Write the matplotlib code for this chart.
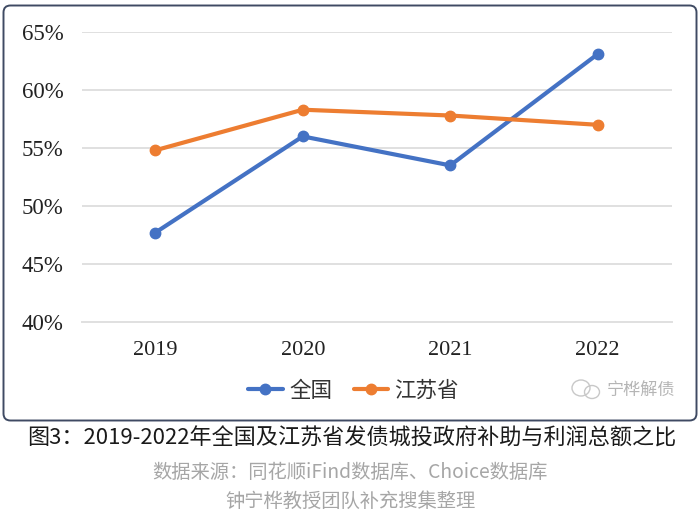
import matplotlib
matplotlib.use('Agg')
import matplotlib.pyplot as plt
from matplotlib.patches import FancyBboxPatch, Ellipse
from matplotlib.transforms import IdentityTransform

plt.rcParams['font.family'] = ['Noto Sans CJK SC', 'DejaVu Sans']

years = ['2019', '2020', '2021', '2022']
national = [47.7, 56.0, 53.5, 63.1]
jiangsu = [54.8, 58.3, 57.8, 57.0]
yticks = [40, 45, 50, 55, 60, 65]
ytick_labels = ['40%', '45%', '50%', '55%', '60%', '65%']

W, H = 700, 519
fig = plt.figure(figsize=(W / 100, H / 100), dpi=100)

# rounded frame round the chart
frame = FancyBboxPatch((3.5, H - 420.5), 693, 415, boxstyle='round,pad=0,rounding_size=7',
                       transform=IdentityTransform(), fc='white', ec='#3f4a63', lw=1.4, zorder=-1)
fig.add_artist(frame)

ax = fig.add_axes([81.5 / W, 1 - 322 / H, 590 / W, 290 / H])
ax.patch.set_alpha(0)
ax.plot(years, national, color='#4472c4', lw=3, marker='o', ms=7.5, label='全国', solid_capstyle='round')
ax.plot(years, jiangsu, color='#ed7d31', lw=3, marker='o', ms=7.5, label='江苏省', solid_capstyle='round')
ax.set_xlim(-0.5, 3.5)
ax.set_ylim(40, 65)
ax.set_yticks(yticks)
ax.set_yticklabels(ytick_labels, family='Liberation Serif', fontsize=16.5, color='#222222')
ax.set_xticks(range(4))
ax.set_xticklabels(years, family='Liberation Serif', fontsize=16, color='#222222')
ax.grid(axis='y', color='#e0e0e0', lw=1.4)
ax.set_axisbelow(True)
for s in ax.spines.values():
    s.set_visible(False)
ax.spines['bottom'].set_visible(True)
ax.spines['bottom'].set_color('#e0e0e0')
ax.spines['bottom'].set_linewidth(1.4)
ax.tick_params(length=0)
ax.tick_params(axis='y', pad=13)
ax.tick_params(axis='x', pad=14)

leg = fig.legend(loc='center', bbox_to_anchor=(353.5 / W, 1 - 391 / H), ncol=2, frameon=False,
                 prop={'size': 15.5, 'weight': 'light'}, handlelength=1.6, columnspacing=1.0,
                 handletextpad=0.3, labelcolor='#333333')

# watermark: chat bubbles icon and account name
for cx, cy, ew, eh in [(581, 388, 18, 16), (592, 392, 15, 13)]:
    fig.add_artist(Ellipse((cx, H - cy), ew, eh, transform=IdentityTransform(),
                           fc='none', ec='#c8c8c8', lw=1))
fig.text(641 / W, 1 - 390 / H, '宁桦解债', fontsize=12.3, color='#b5b5b5', ha='center', va='center')

fig.text(351.5 / W, 1 - 439 / H, '图3：2019-2022年全国及江苏省发债城投政府补助与利润总额之比',
         fontsize=15.9, color='#1a1a1a', ha='center', va='center')
fig.text(350 / W, 1 - 472 / H, '数据来源：同花顺iFind数据库、Choice数据库',
         fontsize=13.9, color='#a6a6a6', ha='center', va='center')
fig.text(350 / W, 1 - 501 / H, '钟宁桦教授团队补充搜集整理',
         fontsize=13.9, color='#a6a6a6', ha='center', va='center')

fig.savefig('out.png', dpi=100)
